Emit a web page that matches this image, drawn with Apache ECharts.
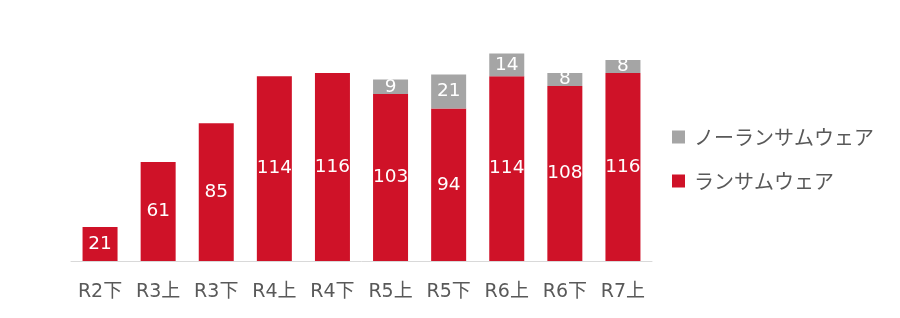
<!DOCTYPE html>
<html>
<head>
<meta charset="utf-8">
<script src="https://cdn.jsdelivr.net/npm/echarts@6/dist/echarts.min.js"></script>
<style>html,body{margin:0;padding:0;background:#fff;}#c{width:900px;height:318px;}</style>
</head>
<body>
<div id="c"></div>
<script>
var categories = ['R2下','R3上','R3下','R4上','R4下','R5上','R5下','R6上','R6下','R7上'];
var ransomware = [21, 61, 85, 114, 116, 103, 94, 114, 108, 116];
var nonRansomware = [null, null, null, null, null, 9, 21, 14, 8, 8];
var seriesNames = ['ノーランサムウェア', 'ランサムウェア'];

var FONT = '"DejaVu Sans", "Noto Sans CJK JP", sans-serif';
var chart = echarts.init(document.getElementById('c'));
chart.setOption({
  animation: false,
  textStyle: { fontFamily: FONT },
  grid: { left: 71, right: 248, top: 34, bottom: 57 },
  legend: {
    orient: 'vertical',
    left: 667,
    top: 122,
    itemWidth: 13,
    itemHeight: 13,
    itemGap: 24,
    icon: 'rect',
    data: seriesNames,
    textStyle: { fontSize: 20, color: '#595959', padding: [0, 0, 0, 4], fontFamily: '"Noto Sans CJK JP", sans-serif' }
  },
  xAxis: {
    type: 'category',
    data: categories,
    axisLine: { lineStyle: { color: '#d9d9d9', width: 1 } },
    axisTick: { show: false },
    axisLabel: { fontSize: 19, color: '#595959', margin: 22, fontFamily: FONT }
  },
  yAxis: {
    type: 'value', min: 0, max: 140, show: false,
    splitLine: { show: false }
  },
  series: [
    {
      name: seriesNames[1], type: 'bar', stack: 'total', barWidth: 35,
      data: ransomware,
      itemStyle: { color: '#CF1228' },
      label: { show: true, position: 'inside', color: '#fff', fontSize: 18.5, fontFamily: FONT }
    },
    {
      name: seriesNames[0], type: 'bar', stack: 'total', barWidth: 35,
      data: nonRansomware,
      itemStyle: { color: '#A5A5A5' },
      label: { show: true, position: 'inside', color: '#fff', fontSize: 18.5, fontFamily: FONT }
    }
  ]
});
</script>
</body>
</html>
